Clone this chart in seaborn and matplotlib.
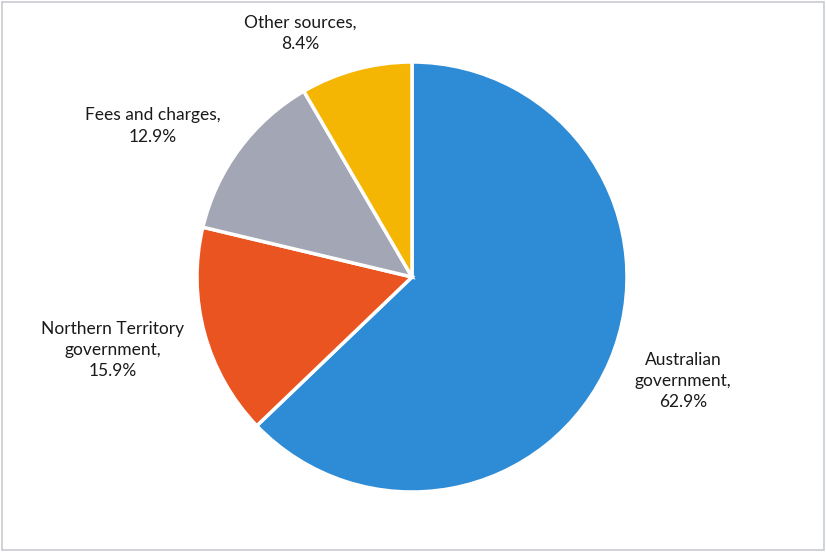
import matplotlib
matplotlib.use("Agg")
import matplotlib.pyplot as plt
import seaborn as sns
from matplotlib.patches import Rectangle

sns.set_theme(style="white")
plt.rcParams['font.family'] = ['Lato', 'DejaVu Sans']

categories = ["Australian government", "Northern Territory government", "Fees and charges", "Other sources"]
values = [62.9, 15.9, 12.9, 8.4]
label_texts = ["Australian\ngovernment,\n62.9%", "Northern Territory\ngovernment,\n15.9%",
               "Fees and charges,\n12.9%", "Other sources,\n8.4%"]
colors = ["#2E8BD5", "#EA5421", "#A3A6B5", "#F4B602"]

W, H = 826, 552
fig = plt.figure(figsize=(W / 100, H / 100), dpi=100)
ax = fig.add_axes([0, 0, 1, 1])

cx, cy, r = 412, H - 277, 215
ax.pie(values, colors=colors, startangle=90, counterclock=False,
       center=(cx, cy), radius=r, frame=True,
       wedgeprops=dict(edgecolor='white', linewidth=2.5))
ax.set_xlim(0, W)
ax.set_ylim(0, H)
ax.set_aspect('equal')
ax.axis('off')

label_pos = [(683, H - 381), (113, H - 350), (153, H - 126), (300, H - 33)]
for t, (x, y) in zip(label_texts, label_pos):
    ax.text(x, y, t, ha='center', va='center', fontsize=12.5, color='#1a1a1a',
            linespacing=1.42)

ax.add_patch(Rectangle((2, 2), W - 4, H - 4, fill=False, edgecolor='#c9c9d2', linewidth=1.2))

fig.savefig("out.png", dpi=100)
